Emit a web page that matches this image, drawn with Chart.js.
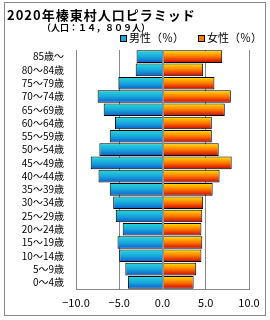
<!DOCTYPE html>
<html>
<head>
<meta charset="utf-8">
<script src="https://cdn.jsdelivr.net/npm/chart.js@4.4.1/dist/chart.umd.min.js"></script>
<style>
  html, body { margin: 0; padding: 0; background: #fff; }
  #wrap { width: 270px; height: 320px; }
</style>
</head>
<body>
<div id="wrap"><canvas id="pyramid" width="270" height="320"></canvas></div>
<script>
const chartTitle = "2020年榛東村人口ピラミッド";
const chartSubtitle = "（人口：１４，８０９人）";
const ageGroups = [
  "85歳～", "80～84歳", "75～79歳", "70～74歳", "65～69歳", "60～64歳",
  "55～59歳", "50～54歳", "45～49歳", "40～44歳", "35～39歳", "30～34歳",
  "25～29歳", "20～24歳", "15～19歳", "10～14歳", "5～9歳", "0～4歳",
];
const seriesNames = ["男性（％）", "女性（％）"];
// percent of total population, male shown on the left
const malePct = [3.0, 3.1, 5.1, 7.5, 6.8, 5.5, 6.1, 7.3, 8.3, 7.4, 6.1, 5.7, 5.4, 4.6, 5.2, 5.0, 4.3, 4.0];
const femalePct = [6.9, 4.7, 6.0, 7.9, 7.2, 5.7, 5.7, 6.5, 8.0, 6.6, 5.8, 4.7, 4.6, 4.5, 4.6, 4.5, 3.9, 3.6];
const xTicks = [-10, -5, 0, 5, 10];

const FONT = '"Noto Sans CJK JP", "Noto Sans", sans-serif';

const maleStops = ["#28d8d8", "#18a8dc", "#0c5ccc"];
const femaleStops = ["#ffe400", "#ff7800", "#c80000"];

// vertical gradient fill per bar, from the bar's own position
const gradientPlugin = {
  id: "barGradient",
  beforeDatasetsDraw(chart) {
    const c = chart.ctx;
    chart.data.datasets.forEach((ds, di) => {
      const stops = di === 0 ? maleStops : femaleStops;
      chart.getDatasetMeta(di).data.forEach((bar) => {
        const half = bar.height / 2;
        if (!isFinite(bar.y) || !(half > 0)) return;
        const g = c.createLinearGradient(0, bar.y - half, 0, bar.y + half);
        g.addColorStop(0, stops[0]);
        g.addColorStop(0.5, stops[1]);
        g.addColorStop(1, stops[2]);
        bar.options.backgroundColor = g;
      });
    });
  },
  afterDatasetsDraw(chart) {
    // thin line at zero over the bars
    const x = Math.round(chart.scales.x.getPixelForValue(0)) + 0.5;
    const c = chart.ctx;
    c.save();
    c.strokeStyle = "#7a9cb0";
    c.lineWidth = 1;
    c.beginPath();
    c.moveTo(x, chart.chartArea.top);
    c.lineTo(x, chart.chartArea.bottom);
    c.stroke();
    c.restore();
  },
};

const headerPlugin = {
  id: "header",
  afterDraw(chart) {
    const c = chart.ctx;
    c.save();
    // frame
    c.strokeStyle = "#888";
    c.lineWidth = 1;
    c.strokeRect(4.5, 2.5, 261, 313);

    c.fillStyle = "#000";
    c.textBaseline = "middle";
    c.font = "bold 13px " + FONT;
    c.letterSpacing = "1px";
    c.fillText(chartTitle, 7, 15);
    c.font = "bold 9px " + FONT;
    c.letterSpacing = "0px";
    c.fillText(chartSubtitle, 42, 28);

    // legend
    const boxes = [[120, maleStops[1]], [198, femaleStops[1]]];
    c.font = "11px " + FONT;
    boxes.forEach(([x, col], i) => {
      c.fillStyle = col;
      c.fillRect(x, 35, 7, 7);
      c.strokeStyle = "#000";
      c.strokeRect(x + 0.5, 35.5, 6, 6);
      c.fillStyle = "#000";
      c.fillText(seriesNames[i], x + 9, 38);
    });
    c.restore();
  },
};

new Chart(document.getElementById("pyramid"), {
  type: "bar",
  data: {
    labels: ageGroups,
    datasets: [
      {
        label: seriesNames[0],
        data: malePct.map((v) => -v),
        backgroundColor: () => maleStops[1],
        borderColor: "#000",
        borderWidth: 1,
        categoryPercentage: 0.95,
        barPercentage: 1,
      },
      {
        label: seriesNames[1],
        data: femalePct,
        backgroundColor: () => femaleStops[1],
        borderColor: "#000",
        borderWidth: 1,
        categoryPercentage: 0.95,
        barPercentage: 1,
      },
    ],
  },
  options: {
    indexAxis: "y",
    responsive: false,
    animation: false,
    layout: { padding: { top: 50, right: 21, bottom: 0, left: 0 } },
    plugins: {
      legend: { display: false },
      title: { display: false },
      tooltip: { enabled: false },
    },
    scales: {
      x: {
        stacked: true,
        min: xTicks[0],
        max: xTicks[xTicks.length - 1],
        afterBuildTicks: (scale) => {
          scale.ticks = xTicks.map((v) => ({ value: v }));
        },
        afterFit: (scale) => {
          scale.height = 31;
        },
        grid: { color: "#888", drawTicks: false },
        border: { color: "#888" },
        ticks: {
          padding: 7,
          color: "#000",
          font: { family: FONT, size: 11 },
          maxRotation: 0,
          callback: (v) => (v < 0 ? "−" : "") + Math.abs(v).toFixed(1),
        },
      },
      y: {
        stacked: true,
        grid: { display: false, drawTicks: false },
        border: { color: "#888" },
        afterFit: (scale) => {
          scale.width = 76;
        },
        ticks: {
          padding: 12,
          color: "#000",
          font: { family: FONT, size: 10 },
          autoSkip: false,
        },
      },
    },
  },
  plugins: [gradientPlugin, headerPlugin],
});
</script>
</body>
</html>
